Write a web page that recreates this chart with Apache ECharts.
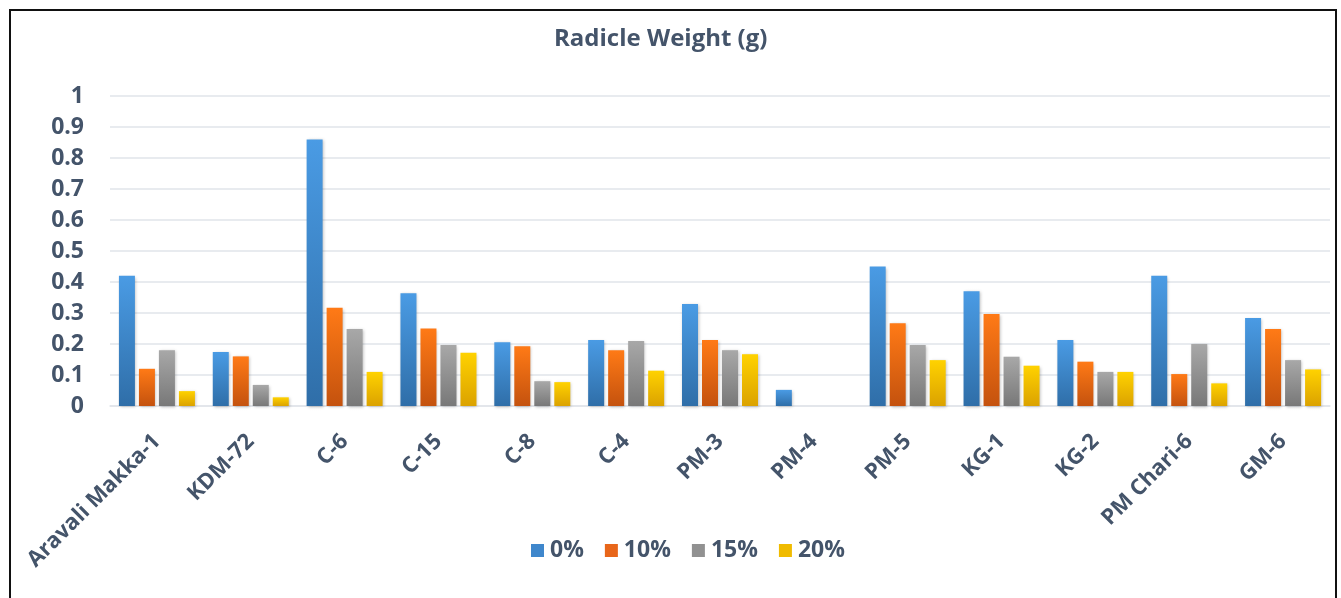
<!DOCTYPE html>
<html>
<head>
<meta charset="utf-8">
<script src="https://cdn.jsdelivr.net/npm/echarts@6/dist/echarts.min.js"></script>
<style>
html,body{margin:0;padding:0;background:#fff;}
#c{width:1341px;height:598px;}
</style>
</head>
<body>
<div id="c"></div>
<script>
var categories = ["Aravali Makka-1","KDM-72","C-6","C-15","C-8","C-4","PM-3","PM-4","PM-5","KG-1","KG-2","PM Chari-6","GM-6"];
var seriesNames = ["0%","10%","15%","20%"];
var s0  = [0.42,0.174,0.86,0.364,0.206,0.213,0.329,0.052,0.45,0.37,0.213,0.42,0.284];
var s10 = [0.12,0.16,0.317,0.25,0.193,0.18,0.213,0,0.267,0.297,0.143,0.103,0.248];
var s15 = [0.18,0.068,0.248,0.197,0.08,0.21,0.18,0,0.197,0.159,0.11,0.2,0.148];
var s20 = [0.048,0.028,0.11,0.172,0.077,0.114,0.167,0,0.148,0.13,0.11,0.073,0.118];
var yTicks = [0,0.1,0.2,0.3,0.4,0.5,0.6,0.7,0.8,0.9,1];

var txt = '#44546a';
var font = 'Open Sans';
function grad(top, bottom){
  return new echarts.graphic.LinearGradient(0,0,0,1,[{offset:0,color:top},{offset:1,color:bottom}]);
}
var colors = [
  grad('#4a9be4','#2f6ea8'),
  grad('#ff7a16','#c4520e'),
  grad('#a8a8a8','#787878'),
  grad('#ffd200','#dba200')
];
var legendColors = ['#3f87cc','#e8661a','#919191','#f0bb00'];
var data = [s0,s10,s15,s20];

var chart = echarts.init(document.getElementById('c'));
chart.setOption({
  animation:false,
  backgroundColor:'#fff',
  title:{
    text:'Radicle Weight (g)',
    left:549, top:22,
    textStyle:{fontFamily:font,fontWeight:'bold',fontSize:24,color:txt}
  },
  graphic:[{
    type:'rect', silent:true,
    shape:{x:10,y:10,width:1326,height:620},
    style:{fill:'none',stroke:'#111',lineWidth:2}
  }],
  legend:{
    data:seriesNames.map(function(n,i){return {name:n,itemStyle:{color:legendColors[i]}};}),
    left:526, top:534,
    itemWidth:13, itemHeight:13, itemGap:21,
    icon:'rect',
    textStyle:{fontFamily:font,fontWeight:'bold',fontSize:23,color:txt,padding:[0,0,0,1]}
  },
  grid:{left:110,right:11,top:96,bottom:192,containLabel:false},
  xAxis:{
    type:'category',
    data:categories,
    axisLine:{lineStyle:{color:'#e1e5ea',width:1.5}},
    axisTick:{show:false},
    axisLabel:{rotate:45,interval:0,margin:32,fontFamily:font,fontWeight:'bold',fontSize:22,color:txt}
  },
  yAxis:{
    type:'value',
    min:yTicks[0], max:yTicks[yTicks.length-1], interval:0.1,
    axisLine:{show:false},
    axisTick:{show:false},
    splitLine:{lineStyle:{color:'#e1e5ea',width:1.5}},
    axisLabel:{margin:26,fontFamily:font,fontWeight:'bold',fontSize:23,color:txt}
  },
  series:seriesNames.map(function(n,i){
    return {
      name:n, type:'bar', data:data[i],
      barWidth:16, barGap:'25%',
      itemStyle:{color:colors[i],shadowBlur:3,shadowColor:'rgba(0,0,0,0.25)',shadowOffsetX:1,shadowOffsetY:1}
    };
  })
});
</script>
</body>
</html>
